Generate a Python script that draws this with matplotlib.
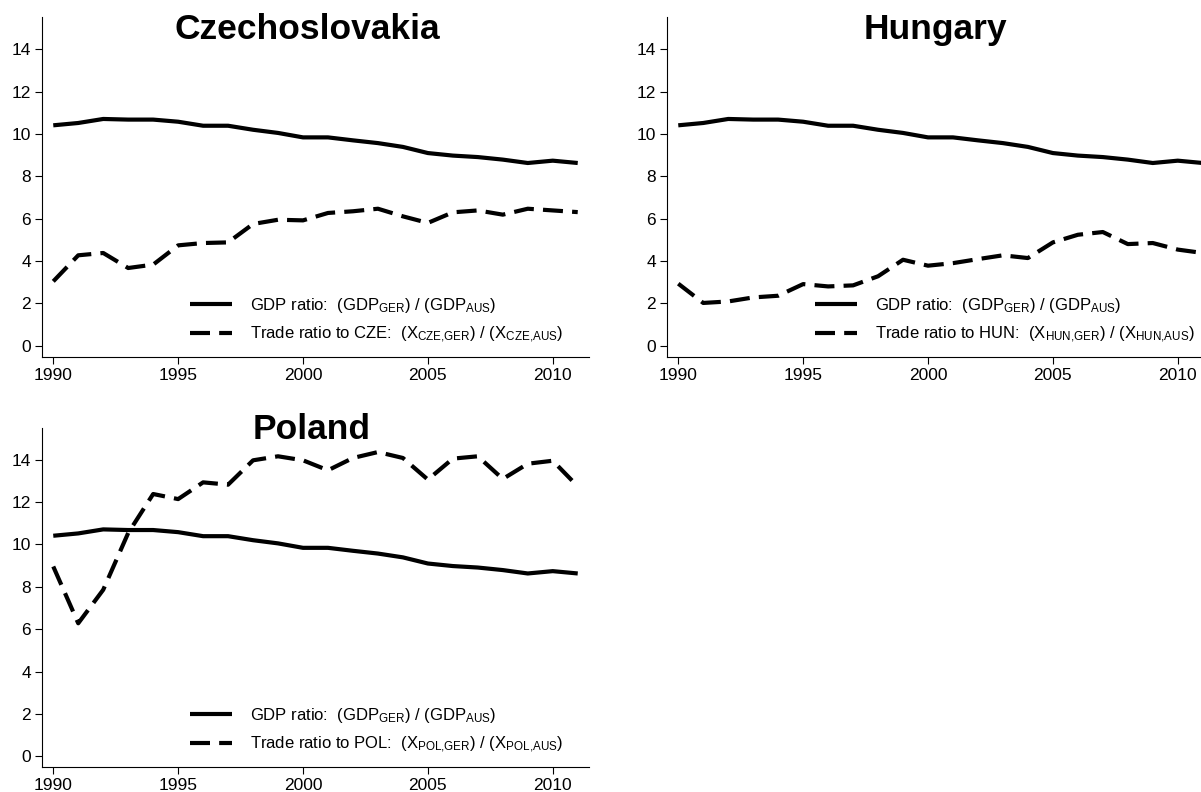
import matplotlib
matplotlib.use("Agg")
import matplotlib.pyplot as plt

plt.rcParams["font.family"] = ["Liberation Sans", "DejaVu Sans"]
plt.rcParams["mathtext.fontset"] = "custom"
plt.rcParams["mathtext.rm"] = "Liberation Sans"
plt.rcParams["mathtext.it"] = "Liberation Sans"
plt.rcParams["mathtext.bf"] = "Liberation Sans:bold"

years = list(range(1990, 2012))

gdp_ratio = [10.41, 10.52, 10.71, 10.68, 10.68, 10.58, 10.39, 10.39, 10.20, 10.05, 9.84,
             9.84, 9.70, 9.57, 9.39, 9.10, 8.98, 8.91, 8.79, 8.63, 8.74, 8.63]

trade_cze = [3.04, 4.27, 4.38, 3.67, 3.83, 4.74, 4.85, 4.88, 5.75, 5.95, 5.92,
             6.27, 6.35, 6.47, 6.11, 5.80, 6.30, 6.39, 6.19, 6.47, 6.39, 6.31]

trade_hun = [2.93, 2.02, 2.09, 2.28, 2.36, 2.91, 2.80, 2.85, 3.28, 4.06, 3.78,
             3.90, 4.09, 4.27, 4.14, 4.88, 5.24, 5.37, 4.80, 4.85, 4.54, 4.38]

trade_pol = [8.96, 6.28, 7.86, 10.54, 12.38, 12.14, 12.93, 12.82, 13.97, 14.16, 13.97,
             13.50, 14.08, 14.36, 14.08, 13.06, 14.05, 14.16, 13.09, 13.81, 13.95, 12.74]

panels = [
    # title, code, trade series, axes rect, title position (fig coords)
    ("Czechoslovakia", "CZE", trade_cze, [0.0352, 0.5496, 0.4552, 0.4285], (0.2561, 0.9508)),
    ("Hungary", "HUN", trade_hun, [0.5556, 0.5496, 0.4552, 0.4285], (0.7785, 0.9508)),
    ("Poland", "POL", trade_pol, [0.0352, 0.0311, 0.4552, 0.4289], (0.2594, 0.4457)),
]

fig = plt.figure(figsize=(12.01, 7.92), dpi=100)

for title, code, trade, rect, tpos in panels:
    ax = fig.add_axes(rect)
    ax.plot(years, gdp_ratio, color="black", lw=3.0, solid_capstyle="butt",
            label=r"GDP ratio:  (GDP$_{\mathrm{GER}}$) / (GDP$_{\mathrm{AUS}}$)")
    ax.plot(years, trade, color="black", lw=3.0, dashes=(4.8, 2.2), dash_capstyle="butt",
            label=rf"Trade ratio to {code}:  (X$_{{\mathrm{{{code}{{,}}GER}}}}$) / "
                  rf"(X$_{{\mathrm{{{code}{{,}}AUS}}}}$)")
    ax.set_xlim(1989.56, 2011.45)
    ax.set_ylim(-0.52, 15.51)
    ax.set_xticks([1990, 1995, 2000, 2005, 2010])
    ax.set_yticks(range(0, 15, 2))
    ax.spines["top"].set_visible(False)
    ax.spines["right"].set_visible(False)
    for s in ("left", "bottom"):
        ax.spines[s].set_linewidth(0.8)
    ax.tick_params(direction="out", length=5, width=0.8, labelsize=12.5, pad=3)
    ax.legend(loc="lower left", bbox_to_anchor=(0.27, 0.035), frameon=False,
              fontsize=12, handlelength=2.5, handletextpad=1.1, labelspacing=0.6,
              borderpad=0, borderaxespad=0)
    fig.text(tpos[0], tpos[1], title, ha="center", va="baseline",
             fontsize=25.5, fontweight="bold")

fig.savefig("out.png", dpi=100)
